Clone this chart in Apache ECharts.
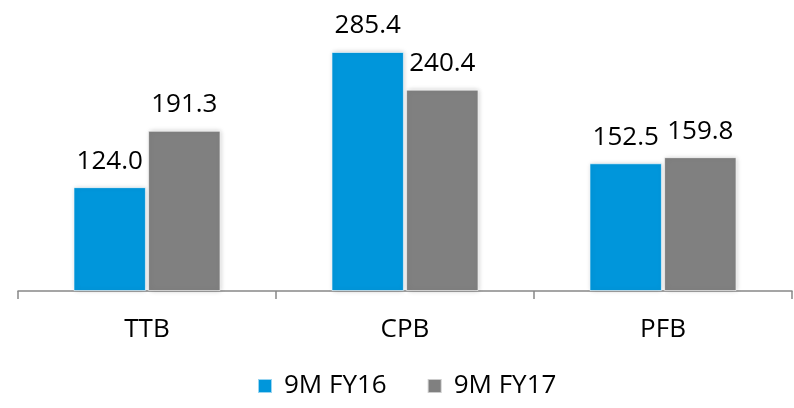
<!DOCTYPE html>
<html><head><meta charset="utf-8">
<script src="https://cdn.jsdelivr.net/npm/echarts@6/dist/echarts.min.js"></script>
<style>html,body{margin:0;padding:0;background:#fff}#c{width:794px;height:408px}</style>
</head><body><div id="c"></div>
<script>
const categories = ['TTB', 'CPB', 'PFB'];
const fy16 = [124.0, 285.4, 152.5];
const fy17 = [191.3, 240.4, 159.8];
const seriesNames = ['9M FY16', '9M FY17'];

const chart = echarts.init(document.getElementById('c'));
const font = '"Open Sans", "Noto Sans", sans-serif';
const barStyle = (c) => ({ color: c, borderColor: 'rgba(255,255,255,0.6)', borderWidth: 1, shadowColor: 'rgba(0,0,0,0.2)', shadowBlur: 5, shadowOffsetX: 1, shadowOffsetY: 0 });
const lbl = { show: true, position: 'top', distance: 13, color: '#000', fontSize: 26, fontFamily: font, formatter: p => p.value.toFixed(1) };
chart.setOption({
  animation: false,
  grid: { left: 18, right: 2, top: 10, bottom: 117 },
  legend: {
    bottom: 4, left: 252, itemWidth: 14, itemHeight: 14, itemGap: 40,
    icon: 'rect',
    textStyle: { fontSize: 26, fontFamily: font, color: '#000', padding: [0, 0, 0, 7] },
    data: seriesNames
  },
  xAxis: {
    type: 'category', data: categories,
    axisLine: { lineStyle: { color: '#888', width: 1.5 } },
    axisTick: { show: true, alignWithLabel: false, length: 8, lineStyle: { color: '#888', width: 1.5 } },
    axisLabel: { color: '#000', fontSize: 26, fontFamily: font, margin: 26 }
  },
  yAxis: { type: 'value', min: 0, max: 335.5, show: false, splitLine: { show: false } },
  series: [
    { name: seriesNames[0], type: 'bar', data: fy16, barCategoryGap: '43%', barGap: '3%', itemStyle: barStyle('#0096DB'), label: lbl },
    { name: seriesNames[1], type: 'bar', data: fy17, itemStyle: barStyle('#808080'), label: lbl }
  ]
});
</script></body></html>
